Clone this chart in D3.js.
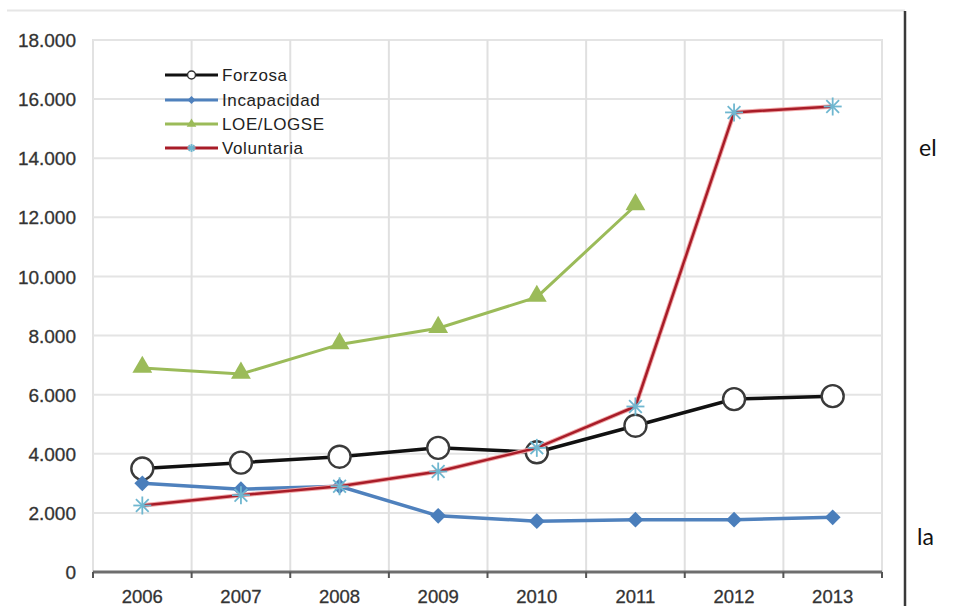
<!DOCTYPE html>
<html><head><meta charset="utf-8">
<script src="https://cdn.jsdelivr.net/npm/d3@7"></script>
<style>body{margin:0;background:#fff}svg{display:block}</style>
</head><body>
<svg id="c" width="958" height="606"></svg>
<script>
const years = ["2006","2007","2008","2009","2010","2011","2012","2013"];
const forzosa = [3500,3700,3900,4200,4050,4950,5850,5950];
const incapacidad = [3000,2800,2900,1900,1720,1770,1770,1850];
const loe = [6900,6700,7700,8250,9300,12400,null,null];
const voluntaria = [2250,2600,2900,3400,4200,5600,15550,15750];
const yTicks = [0,2000,4000,6000,8000,10000,12000,14000,16000,18000];
const seriesNames = ["Forzosa","Incapacidad","LOE/LOGSE","Voluntaria"];

const svg = d3.select("#c");
const L=93, R=882, T=40, B=572;
const x = d3.scaleBand().domain(years).range([L,R]);
const y = d3.scaleLinear().domain([0,18000]).range([B,T]);
const fmt = v => v===0 ? "0" : d3.format(",")(v).replace(/,/g,".");
const FONT = "Liberation Sans, Arial, sans-serif";

// outer frame
svg.append("line").attr("x1",7).attr("x2",905).attr("y1",10.5).attr("y2",10.5).attr("stroke","#e6e6e6").attr("stroke-width",2);
svg.append("line").attr("x1",905).attr("x2",905).attr("y1",11).attr("y2",606).attr("stroke","#3a3a3a").attr("stroke-width",2.5);

// plot border
svg.append("rect").attr("x",L).attr("y",T).attr("width",R-L).attr("height",B-T).attr("fill","none").attr("stroke","#e2e2e2").attr("stroke-width",2);

// gridlines
svg.append("g").selectAll("line").data(yTicks.filter(d=>d>0)).join("line")
  .attr("x1",L).attr("x2",R).attr("y1",d=>y(d)).attr("y2",d=>y(d)).attr("stroke","#e4e4e4").attr("stroke-width",2);
svg.append("g").selectAll("line").data(years.slice(1)).join("line")
  .attr("x1",d=>x(d)).attr("x2",d=>x(d)).attr("y1",T).attr("y2",B).attr("stroke","#e0e0e0").attr("stroke-width",2);

// y axis labels
const yAxis = d3.axisLeft(y).tickValues(yTicks).tickFormat(fmt).tickSize(0).tickPadding(0);
const gy = svg.append("g").attr("transform",`translate(${L-17},0)`).call(yAxis);
gy.select(".domain").remove();
gy.selectAll("text").attr("font-family",FONT).attr("font-size",19).attr("fill","#333")
  .attr("stroke","#333").attr("stroke-width",0.3).attr("dy","0.35em");

// x axis
const gx = svg.append("g").attr("transform",`translate(0,${B})`);
gx.append("line").attr("x1",L).attr("x2",R).attr("stroke","#6e6e6e").attr("stroke-width",3);
const tickPos = years.map(d=>x(d)).concat([R]);
gx.selectAll("line.tk").data(tickPos).join("line").attr("class","tk")
  .attr("x1",d=>d).attr("x2",d=>d).attr("y1",0).attr("y2",6).attr("stroke","#555").attr("stroke-width",2);
gx.selectAll("text").data(years).join("text")
  .attr("x",d=>x(d)+x.bandwidth()/2).attr("y",31).attr("text-anchor","middle")
  .attr("font-family",FONT).attr("font-size",18.5).attr("fill","#333")
  .attr("stroke","#333").attr("stroke-width",0.3).text(d=>d);

const cx = d => x(d)+x.bandwidth()/2;
const line = d3.line().defined(d=>d.v!=null).x(d=>cx(d.k)).y(d=>y(d.v));
const pts = arr => years.map((k,i)=>({k,v:arr[i]}));

const star = (g,px,py,s,col)=>{
  [0,45,90,135].forEach(a=>{
    const r=a*Math.PI/180;
    g.append("line").attr("x1",px-Math.cos(r)*s).attr("y1",py-Math.sin(r)*s)
      .attr("x2",px+Math.cos(r)*s).attr("y2",py+Math.sin(r)*s).attr("stroke",col).attr("stroke-width",1.8);
  });
};

// Forzosa
const gF = svg.append("g");
gF.append("path").datum(pts(forzosa)).attr("d",line).attr("fill","none").attr("stroke","#111").attr("stroke-width",3.5);
gF.selectAll("circle").data(pts(forzosa)).join("circle").attr("cx",d=>cx(d.k)).attr("cy",d=>y(d.v)).attr("r",11)
  .attr("fill","#fff").attr("stroke","#3a3a3a").attr("stroke-width",2.4);

// Incapacidad
const gI = svg.append("g");
gI.append("path").datum(pts(incapacidad)).attr("d",line).attr("fill","none").attr("stroke","#4f81bd").attr("stroke-width",3.5);
gI.selectAll("path.m").data(pts(incapacidad)).join("path").attr("class","m")
  .attr("d",d3.symbol(d3.symbolDiamond2,160)).attr("transform",d=>`translate(${cx(d.k)},${y(d.v)})`).attr("fill","#4a7ebb");

// LOE/LOGSE
const gL = svg.append("g");
gL.append("path").datum(pts(loe)).attr("d",line).attr("fill","none").attr("stroke","#9bbb59").attr("stroke-width",3);
gL.selectAll("path.m").data(pts(loe).filter(d=>d.v!=null)).join("path").attr("class","m")
  .attr("d",d3.symbol(d3.symbolTriangle,170)).attr("transform",d=>`translate(${cx(d.k)},${y(d.v)-1})`).attr("fill","#9bbb59");

// Voluntaria
const gV = svg.append("g");
gV.append("path").datum(pts(voluntaria)).attr("d",line).attr("fill","none").attr("stroke","#f0a8a8").attr("stroke-width",4.5);
gV.append("path").datum(pts(voluntaria)).attr("d",line).attr("fill","none").attr("stroke","#a81c28").attr("stroke-width",2.5);
pts(voluntaria).forEach(d=>star(gV,cx(d.k),y(d.v),9,"#6fb7d0"));

// legend
const lg = svg.append("g");
const legY = [75,100,124,148];
const lx1=165, lx2=218;
seriesNames.forEach((n,i)=>{
  const yy=legY[i];
  const col=["#111","#4f81bd","#9bbb59","#a81c28"][i];
  lg.append("line").attr("x1",lx1).attr("x2",lx2).attr("y1",yy).attr("y2",yy).attr("stroke",col).attr("stroke-width",3);
  const mx=(lx1+lx2)/2;
  if(i===0) lg.append("circle").attr("cx",mx).attr("cy",yy).attr("r",4).attr("fill","#fff").attr("stroke","#333").attr("stroke-width",1.5);
  if(i===1) lg.append("path").attr("d",d3.symbol(d3.symbolDiamond2,40)).attr("transform",`translate(${mx},${yy})`).attr("fill","#4f81bd");
  if(i===2) lg.append("path").attr("d",d3.symbol(d3.symbolTriangle,40)).attr("transform",`translate(${mx},${yy})`).attr("fill","#9bbb59");
  if(i===3) star(lg,mx,yy,4,"#6fb7d0");
  lg.append("text").attr("x",222).attr("y",yy).attr("dy","0.35em").attr("font-family",FONT)
    .attr("font-size",17).attr("letter-spacing",0.6).attr("fill","#222").text(n);
});

// side text
svg.append("text").attr("x",919).attr("y",156).attr("font-family","Lato, DejaVu Sans, sans-serif").attr("font-size",23).attr("fill","#111").text("el");
svg.append("text").attr("x",917).attr("y",545).attr("font-family","Lato, DejaVu Sans, sans-serif").attr("font-size",23).attr("fill","#111").text("la");
</script>
</body></html>
